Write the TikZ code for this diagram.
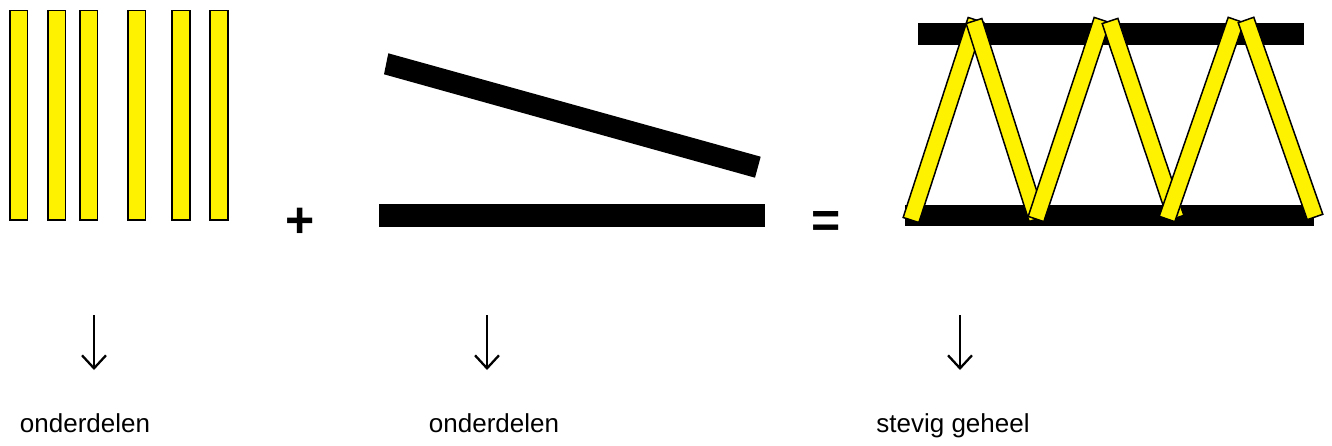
\documentclass[tikz,border=0pt]{standalone}
\usepackage{fontspec}
\setmainfont{Liberation Sans}
\usetikzlibrary{calc,arrows.meta}
\newcommand{\trussbar}[2]{\filldraw[fill=yellow,line width=1.5pt] ($#1!8.25pt!90:#2$) -- ($#2!8.25pt!-90:#1$) -- ($#2!8.25pt!90:#1$) -- ($#1!8.25pt!-90:#2$) -- cycle;}
\tikzset{
  stick/.style={fill=yellow,line width=1.5pt},
  beam/.style={fill=black},
  lbl/.style={anchor=base,inner sep=0pt,font=\fontsize{26}{30}\selectfont},
  sign/.style={inner sep=0pt,font=\fontsize{50}{50}\selectfont\bfseries},
  down/.style={line width=2.3pt,-{Straight Barb[length=13pt,width=24pt,line width=2.3pt]}}
}
\begin{document}
\begin{tikzpicture}[x=1pt,y=-1pt]
\useasboundingbox (0,0) rectangle (1332,446);
\draw[stick] (9.75,10.75) rectangle (27.5,220);
\draw[stick] (47.75,10.75) rectangle (65.5,220);
\draw[stick] (79.75,10.75) rectangle (97.5,220);
\draw[stick] (127.75,10.75) rectangle (145.5,220);
\draw[stick] (172,10.75) rectangle (190,220);
\draw[stick] (210,10.75) rectangle (228,220);
\node[sign] (plus) at (300,223) {+};
\fill[beam] (388.3,53.3) -- (760.7,156.7) -- (755,177.7) -- (384,74.3) -- cycle;
\fill[beam] (379,204) rectangle (765,227);
\node[sign] (eq) at (826,224) {=};
\fill[beam] (918,23) rectangle (1304,45);
\fill[beam] (905,205) rectangle (1314,226);
\trussbar{(911,220)}{(976,20)}
\trussbar{(974,21)}{(1037,219)}
\trussbar{(1036,219)}{(1102,20)}
\trussbar{(1110,21)}{(1176,218)}
\trussbar{(1167,219)}{(1236,20)}
\trussbar{(1246,20)}{(1315,217)}
\coordinate (s1) at (94,315);
\coordinate (e1) at (94,370);
\coordinate (s2) at (487,315);
\coordinate (e2) at (487,370);
\coordinate (s3) at (960,315);
\coordinate (e3) at (960,370);
\draw[down] (s1) -- (e1);
\draw[down] (s2) -- (e2);
\draw[down] (s3) -- (e3);
\node[lbl] (parts1) at (85,432) {onderdelen};
\node[lbl] (parts2) at (494,432) {onderdelen};
\node[lbl] (whole) at (953,432) {stevig geheel};
\end{tikzpicture}
\end{document}
